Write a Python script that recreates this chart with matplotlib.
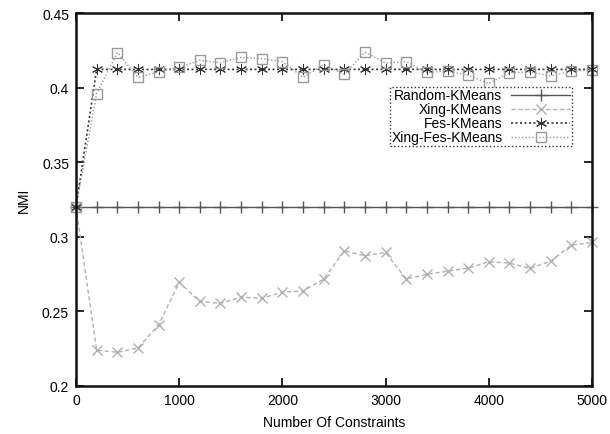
import matplotlib
matplotlib.use("Agg")
import matplotlib.pyplot as plt

plt.rcParams['font.family'] = ['Liberation Sans', 'DejaVu Sans']

# numero de restricciones
restricciones = [0, 200, 400, 600, 800, 1000, 1200, 1400, 1600, 1800, 2000,
                 2200, 2400, 2600, 2800, 3000, 3200, 3400, 3600, 3800, 4000,
                 4200, 4400, 4600, 4800, 5000]

randomKMeans = [0.32] * len(restricciones)

xingKMeans = [0.32, 0.224, 0.2226, 0.2255, 0.2409, 0.2694, 0.2567, 0.2554,
              0.2596, 0.2587, 0.263, 0.2636, 0.2717, 0.2906, 0.2873, 0.2895,
              0.2717, 0.2748, 0.277, 0.279, 0.2833, 0.2824, 0.2788, 0.2837,
              0.2944, 0.2962]

fesKMeans = [0.32] + [0.4122] * (len(restricciones) - 1)

xingFesKMeans = [0.32, 0.396, 0.4235, 0.4069, 0.4105, 0.4136, 0.4183, 0.4167,
                 0.4203, 0.4194, 0.4174, 0.4069, 0.4154, 0.4089, 0.4237, 0.4165,
                 0.4174, 0.4102, 0.4111, 0.4082, 0.4028, 0.41, 0.4105, 0.4078,
                 0.4111, 0.4118]

fig = plt.figure(figsize=(6.1, 4.35), dpi=100)
ax = fig.add_axes([76 / 610, 48 / 435, 516 / 610, 373 / 435])

ax.plot(restricciones, randomKMeans, color='#555555', linestyle='-', linewidth=1.0,
        marker='+', markersize=9, markeredgewidth=1.0, label='Random-KMeans', clip_on=False)
ax.plot(restricciones, xingKMeans, color='#b0b0b0', linestyle=(0, (3, 2)), linewidth=1.0,
        marker='x', markersize=7, markeredgewidth=1.0, label='Xing-KMeans', clip_on=False)
ax.plot(restricciones, fesKMeans, color='#333333', linestyle=(0, (1.2, 1.5)), linewidth=1.2,
        marker=(6, 2, 0), markersize=8, markeredgewidth=0.7, label='Fes-KMeans', clip_on=False)
ax.plot(restricciones, xingFesKMeans, color='#999999', linestyle=(0, (1, 1.5)), linewidth=1.0,
        marker='s', markersize=7, markerfacecolor='none', markeredgewidth=1.0,
        label='Xing-Fes-KMeans', clip_on=False)

ax.set_xlim(0, 5000)
ax.set_ylim(0.2, 0.45)
ax.set_xticks([0, 1000, 2000, 3000, 4000, 5000])
ax.set_yticks([0.2, 0.25, 0.3, 0.35, 0.4, 0.45])
ax.set_yticklabels(['0.2', '0.25', '0.3', '0.35', '0.4', '0.45'])
ax.tick_params(direction='in', top=True, right=True, length=6, width=1.2,
               labelsize=10, pad=5)
for s in ax.spines.values():
    s.set_linewidth(1.8)
    s.set_color('#111111')

ax.set_xlabel('Number Of Constraints', fontsize=10, labelpad=6)
ax.set_ylabel('NMI', fontsize=10, labelpad=8)

leg = ax.legend(loc='upper right', bbox_to_anchor=(0.961, 0.8016), markerfirst=False,
                fancybox=False, framealpha=1, edgecolor='#333333', fontsize=10,
                handlelength=4.3, handletextpad=0.6, labelspacing=0.0,
                borderpad=0.1, borderaxespad=0)
leg.get_frame().set_linestyle(':')
leg.get_frame().set_linewidth(1.0)

plt.savefig('out.png', dpi=100)
